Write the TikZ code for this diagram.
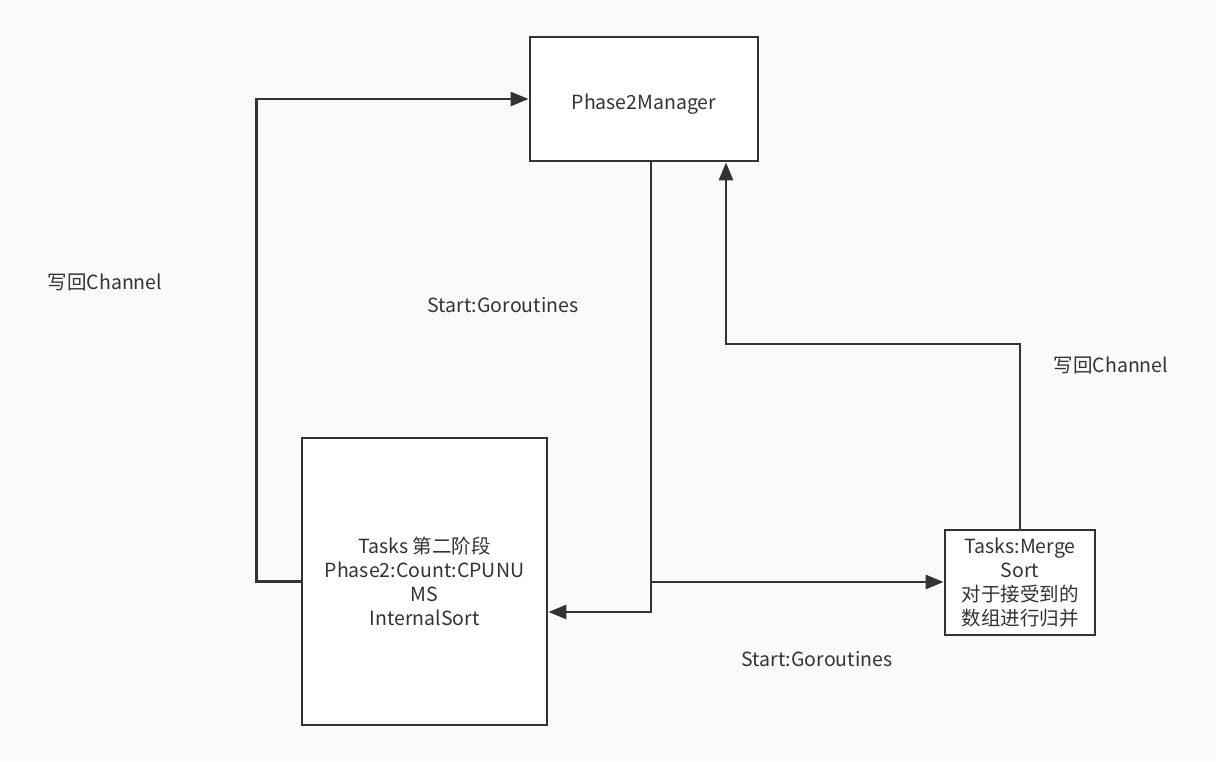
\documentclass[tikz,border=0pt]{standalone}
\usepackage{fontspec}
\setmainfont{Noto Sans CJK SC}
\usetikzlibrary{arrows.meta,calc}
\tikzset{
    flow-box/.style = {draw=black!80, fill=white, line width=2.8pt, rectangle, inner sep=0pt, align=center, text=black!80, font=\fontsize{19.5}{24}\selectfont, execute at begin node={\rule{0pt}{26pt}}},
    flow-line/.style = {draw=black!80, line width=2.8pt, -{Triangle[length=18pt,width=14pt]}},
    flow-label/.style = {font=\fontsize{19.5}{24}\selectfont, text=black!80},
}
\begin{document}
\begin{tikzpicture}[x=1pt,y=-1pt]
\fill[black!2] (0,0) rectangle (1216,761);
\node [flow-box, minimum width=228pt, minimum height=124pt] (manager) at (644,99) {Phase2Manager};
\node [flow-box, minimum width=245pt, minimum height=287pt] (tasks) at (424.5,581.5) {Tasks 第二阶段\\Phase2:Count:CPUNU\\MS\\InternalSort};
\node [flow-box, minimum width=150pt, minimum height=105pt] (merge) at (1020,582.5) {Tasks:Merge\\Sort\\对于接受到的\\数组进行归并};
\coordinate (split) at (651,582);
% write back from the sort tasks
\draw [flow-line] (tasks.west) -- ++(-44,0) |- (manager.west);
% start goroutines
\draw [flow-line] (manager.south -| split) -- (split |- 0,612) -- (tasks.east |- 0,612);
\draw [flow-line] (manager.south -| split) -- (split) -- (merge.west |- split);
% write back from the merge task
\draw [flow-line] (merge.north) -- (merge.north |- 0,344) -| ([xshift=82pt]manager.south);
\node [flow-label] (back-left) at (105,282) {写回Channel};
\node [flow-label] (start-top) at (503,305) {Start:Goroutines};
\node [flow-label] (back-right) at (1111,365) {写回Channel};
\node [flow-label] (start-bottom) at (817,659) {Start:Goroutines};
\end{tikzpicture}
\end{document}
